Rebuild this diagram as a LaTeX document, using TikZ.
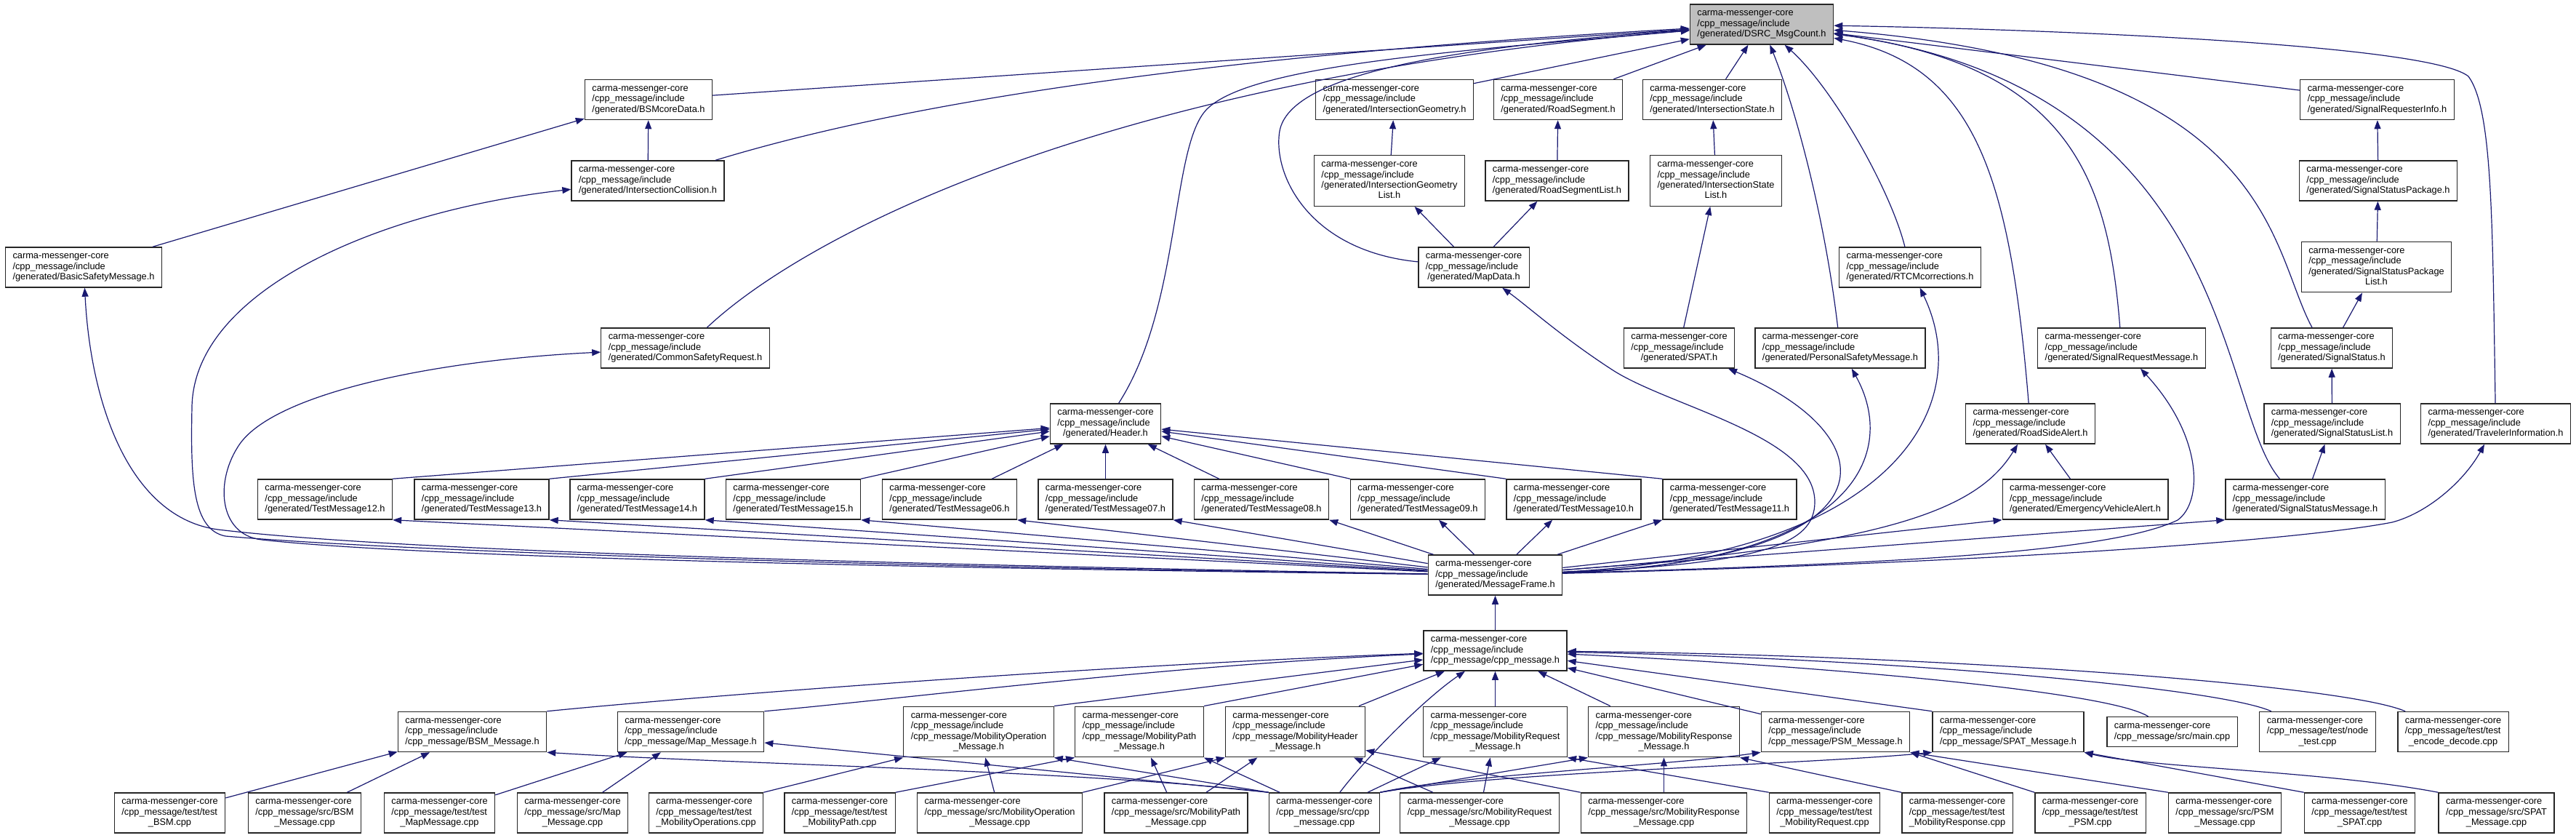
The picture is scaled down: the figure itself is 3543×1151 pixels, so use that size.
\documentclass[tikz,border=0pt]{standalone}
\usepackage{fontspec}
\setmainfont{Liberation Sans}
\usetikzlibrary{arrows.meta}
\definecolor{edgeblue}{HTML}{191970}
\definecolor{curgray}{HTML}{BFBFBF}

% label layouts: lines left aligned, last line centred
\newcommand{\twol}[2]{\begin{tabular}{@{}l@{}}#1\\\multicolumn{1}{@{}c@{}}{#2}\end{tabular}}
\newcommand{\threel}[3]{\begin{tabular}{@{}l@{}}#1\\#2\\\multicolumn{1}{@{}c@{}}{#3}\end{tabular}}
\newcommand{\fourl}[4]{\begin{tabular}{@{}l@{}}#1\\#2\\#3\\\multicolumn{1}{@{}c@{}}{#4}\end{tabular}}
\newcommand{\genl}[1]{\threel{carma-messenger-core}{/cpp\_message/include}{/generated/#1}}
\newcommand{\genll}[2]{\fourl{carma-messenger-core}{/cpp\_message/include}{/generated/#1}{#2}}
\newcommand{\cppl}[1]{\threel{carma-messenger-core}{/cpp\_message/include}{/cpp\_message/#1}}
\newcommand{\cppll}[1]{\fourl{carma-messenger-core}{/cpp\_message/include}{/cpp\_message/#1}{\_Message.h}}
\newcommand{\srcl}[2]{\threel{carma-messenger-core}{/cpp\_message/#1}{#2}}

\begin{document}
\begin{tikzpicture}[x=1pt,y=-1pt,
  fbox/.style={draw=black!85,line width=1.3pt,fill=white,inner xsep=10pt,inner ysep=6pt,
    font=\fontsize{12.8}{14.4}\selectfont},
  cur/.style={fbox,fill=curgray},
  dep/.style={draw=edgeblue,line width=1.2pt,-{Triangle[length=12pt,width=9pt]}}]

\useasboundingbox (0,0) rectangle (3543,1151);

% the file itself
\node[cur] (dsrc) at (2423,33.5) {\genl{DSRC\_MsgCount.h}};

% generated headers, upper rows
\node[fbox] (bsmcore) at (892,137) {\genl{BSMcoreData.h}};
\node[fbox] (igeom) at (1918,137) {\genl{IntersectionGeometry.h}};
\node[fbox] (rseg) at (2143,137) {\genl{RoadSegment.h}};
\node[fbox] (istate) at (2355,137) {\genl{IntersectionState.h}};
\node[fbox] (sreqinfo) at (3269.5,137) {\genl{SignalRequesterInfo.h}};

\node[fbox] (icoll) at (891,248.5) {\genl{IntersectionCollision.h}};
\node[fbox] (igeomlist) at (1911,248.5) {\genll{IntersectionGeometry}{List.h}};
\node[fbox] (rseglist) at (2141.5,248.5) {\genl{RoadSegmentList.h}};
\node[fbox] (istatelist) at (2360,248.5) {\genll{IntersectionState}{List.h}};
\node[fbox] (sspkg) at (3271,248.5) {\genl{SignalStatusPackage.h}};

\node[fbox] (bsm) at (115,367.5) {\genl{BasicSafetyMessage.h}};
\node[fbox] (mapdata) at (2027,367.5) {\genl{MapData.h}};
\node[fbox] (rtcm) at (2627,367.5) {\genl{RTCMcorrections.h}};
\node[fbox] (sspkglist) at (3268.5,367) {\genll{SignalStatusPackage}{List.h}};

\node[fbox] (csr) at (942.5,478.5) {\genl{CommonSafetyRequest.h}};
\node[fbox] (spat) at (2309.5,478.5) {\genl{SPAT.h}};
\node[fbox] (psm) at (2531,478.5) {\genl{PersonalSafetyMessage.h}};
\node[fbox] (sreqmsg) at (2918,478.5) {\genl{SignalRequestMessage.h}};
\node[fbox] (sstatus) at (3207,478.5) {\genl{SignalStatus.h}};

\node[fbox] (header) at (1520.5,582.5) {\genl{Header.h}};
\node[fbox] (rsa) at (2792.5,582.5) {\genl{RoadSideAlert.h}};
\node[fbox] (sslist) at (3207.5,582.5) {\genl{SignalStatusList.h}};
\node[fbox] (travinfo) at (3432.5,582.5) {\genl{TravelerInformation.h}};

% test messages
\foreach \n/\x in {12/447,13/662.5,14/876.5,15/1091,06/1306,07/1520.5,08/1735,09/1950,10/2164.5,11/2379}
  \node[fbox] (tm\n) at (\x,686.5) {\genl{TestMessage\n.h}};
\node[fbox] (eva) at (2868,686.5) {\genl{EmergencyVehicleAlert.h}};
\node[fbox] (ssmsg) at (3170.5,686.5) {\genl{SignalStatusMessage.h}};

\node[fbox] (msgframe) at (2056.5,790.5) {\genl{MessageFrame.h}};
\node[fbox] (cppmsg) at (2056.5,894.5) {\cppl{cpp\_message.h}};

% cpp_message headers
\node[fbox] (bsmmsg) at (649.5,1006) {\cppl{BSM\_Message.h}};
\node[fbox] (mapmsg) at (950,1006) {\cppl{Map\_Message.h}};
\node[fbox] (mobop) at (1346,1006) {\cppll{MobilityOperation}};
\node[fbox] (mobpath) at (1567,1006) {\cppll{MobilityPath}};
\node[fbox] (mobhdr) at (1781.5,1006) {\cppll{MobilityHeader}};
\node[fbox] (mobreq) at (2056.5,1006) {\cppll{MobilityRequest}};
\node[fbox] (mobresp) at (2288.5,1006) {\cppll{MobilityResponse}};
\node[fbox] (psmmsg) at (2524.5,1006) {\cppl{PSM\_Message.h}};
\node[fbox] (spatmsg) at (2762,1006) {\cppl{SPAT\_Message.h}};
\node[fbox] (maincpp) at (2987.5,1006) {\twol{carma-messenger-core}{/cpp\_message/src/main.cpp}};
\node[fbox] (nodetest) at (3187.5,1006) {\srcl{test/node}{\_test.cpp}};
\node[fbox] (encdec) at (3374,1006) {\srcl{test/test}{\_encode\_decode.cpp}};

% sources and tests
\node[fbox] (tbsm) at (233.5,1117.5) {\srcl{test/test}{\_BSM.cpp}};
\node[fbox] (sbsm) at (419,1117.5) {\srcl{src/BSM}{\_Message.cpp}};
\node[fbox] (tmap) at (604.5,1117.5) {\srcl{test/test}{\_MapMessage.cpp}};
\node[fbox] (smap) at (787.5,1117.5) {\srcl{src/Map}{\_Message.cpp}};
\node[fbox] (tmobop) at (971,1117.5) {\srcl{test/test}{\_MobilityOperations.cpp}};
\node[fbox] (tmobpath) at (1155,1117.5) {\srcl{test/test}{\_MobilityPath.cpp}};
\node[fbox] (smobop) at (1375,1117.5) {\srcl{src/MobilityOperation}{\_Message.cpp}};
\node[fbox] (smobpath) at (1617.5,1117.5) {\srcl{src/MobilityPath}{\_Message.cpp}};
\node[fbox] (scpp) at (1821.5,1117.5) {\srcl{src/cpp}{\_message.cpp}};
\node[fbox] (smobreq) at (2035,1117.5) {\srcl{src/MobilityRequest}{\_Message.cpp}};
\node[fbox] (smobresp) at (2288.5,1117.5) {\srcl{src/MobilityResponse}{\_Message.cpp}};
\node[fbox] (tmobreq) at (2509.5,1117.5) {\srcl{test/test}{\_MobilityRequest.cpp}};
\node[fbox] (tmobresp) at (2692,1117.5) {\srcl{test/test}{\_MobilityResponse.cpp}};
\node[fbox] (tpsm) at (2875,1117.5) {\srcl{test/test}{\_PSM.cpp}};
\node[fbox] (spsm) at (3060,1117.5) {\srcl{src/PSM}{\_Message.cpp}};
\node[fbox] (tspat) at (3245.5,1117.5) {\srcl{test/test}{\_SPAT.cpp}};
\node[fbox] (sspat) at (3433.5,1117.5) {\srcl{src/SPAT}{\_Message.cpp}};

% into DSRC_MsgCount.h
\draw[dep] (bsmcore) -- (dsrc);
\draw[dep] (icoll) .. controls (1150,170) and (1500,85) .. (dsrc);
\draw[dep] (csr) .. controls (1100,330) and (1500,110) .. (dsrc);
\draw[dep] (header) .. controls (1625,420) and (1610,200) .. (1660,150) .. controls (1720,90) and (2000,70) .. (dsrc);
\draw[dep] (mapdata) .. controls (1800,345) and (1750,240) .. (1760,180) .. controls (1775,100) and (2000,65) .. (dsrc);
\draw[dep] (igeom) -- (dsrc);
\draw[dep] (rseg) -- (dsrc);
\draw[dep] (istate) -- (dsrc);
\draw[dep] (psm) .. controls (2510,300) and (2470,150) .. (dsrc);
\draw[dep] (rtcm) .. controls (2600,260) and (2520,120) .. (dsrc);
\draw[dep] (rsa) .. controls (2765,250) and (2720,90) .. (dsrc);
\draw[dep] (sreqmsg) .. controls (2900,250) and (2850,90) .. (dsrc);
\draw[dep] ([xshift=-35pt]ssmsg.north) .. controls (3050,560) and (3075,120) .. (dsrc);
\draw[dep] ([xshift=-27pt]sstatus.north) .. controls (3120,340) and (3130,90) .. (dsrc);
\draw[dep] (sreqinfo) -- (dsrc);
\draw[dep] (travinfo) .. controls (3428,300) and (3428,150) .. (3395,105) .. controls (3340,60) and (2800,40) .. (dsrc);

% generated headers among themselves
\draw[dep] (icoll) -- (bsmcore);
\draw[dep] (bsm) -- (bsmcore);
\draw[dep] (igeomlist) -- (igeom);
\draw[dep] (rseglist) -- (rseg);
\draw[dep] (istatelist) -- (istate);
\draw[dep] (mapdata) -- (igeomlist);
\draw[dep] (mapdata) -- (rseglist);
\draw[dep] (spat) -- (istatelist);
\draw[dep] (sspkg) -- (sreqinfo);
\draw[dep] (sspkglist) -- (sspkg);
\draw[dep] (sstatus) -- (sspkglist);
\draw[dep] (sslist) -- (sstatus);
\draw[dep] (ssmsg) -- (sslist);
\draw[dep] (eva) -- (rsa);

% test messages into Header.h
\foreach \n in {12,13,14,15} \draw[dep] (tm\n.north east) -- (header);
\foreach \n in {06,07,08} \draw[dep] (tm\n) -- (header);
\foreach \n in {09,10,11} \draw[dep] (tm\n.north west) -- (header);

% MessageFrame.h
\foreach \n in {12,13,14,15,06,07,08} \draw[dep] (msgframe) -- (tm\n.south east);
\draw[dep] (msgframe) -- (tm09);
\draw[dep] (msgframe) -- (tm10);
\draw[dep] (msgframe) -- (tm11.south west);
\draw[dep] (msgframe) .. controls (1000,772) and (500,752) .. (300,728) .. controls (180,712) and (125,560) .. (bsm);
\draw[dep] (msgframe) .. controls (1000,776) and (480,752) .. (310,737) .. controls (265,728) and (262,660) .. (264,560) .. controls (266,400) and (520,290) .. (icoll);
\draw[dep] (msgframe) .. controls (1000,778) and (520,760) .. (360,742) .. controls (300,735) and (295,660) .. (330,610) .. controls (380,540) and (600,495) .. (csr);
\draw[dep] (msgframe) .. controls (2420,775) and (2496,750) .. (2496,690) .. controls (2496,600) and (2300,560) .. (2220,510) .. controls (2150,465) and (2100,420) .. (mapdata);
\draw[dep] (msgframe) .. controls (2620,770) and (2600,600) .. (spat);
\draw[dep] (msgframe) .. controls (2560,775) and (2610,620) .. (psm);
\draw[dep] (msgframe) .. controls (2600,765) and (2720,560) .. (rtcm);
\draw[dep] (msgframe) .. controls (2600,775) and (2900,760) .. (2995,715) .. controls (3030,690) and (3030,600) .. (sreqmsg);
\draw[dep] (msgframe) .. controls (2600,750) and (2720,700) .. (rsa);
\draw[dep] (msgframe) -- (eva.south west);
\draw[dep] (msgframe) -- (ssmsg.south west);
\draw[dep] (msgframe) .. controls (2700,775) and (3150,745) .. (3290,718) .. controls (3340,705) and (3390,660) .. (travinfo);
\draw[dep] (cppmsg) -- (msgframe);

% into cpp_message.h
\draw[dep] (bsmmsg.north east) .. controls (950,958) and (1500,915) .. (cppmsg);
\draw[dep] (mapmsg.north east) .. controls (1250,960) and (1600,915) .. (cppmsg);
\draw[dep] (mobop.north east) -- (cppmsg);
\draw[dep] (mobpath.north east) -- (cppmsg);
\draw[dep] (mobhdr) -- (cppmsg);
\draw[dep] (mobreq) -- (cppmsg);
\draw[dep] (mobresp) -- (cppmsg);
\draw[dep] (psmmsg) -- (cppmsg);
\draw[dep] (spatmsg.north west) -- (cppmsg);
\draw[dep] (maincpp) .. controls (2900,950) and (2500,915) .. (cppmsg);
\draw[dep] (nodetest) .. controls (3050,945) and (2600,905) .. (cppmsg);
\draw[dep] (encdec) .. controls (3220,940) and (2650,900) .. (cppmsg);
\draw[dep] (scpp) .. controls (1880,1040) and (1960,960) .. (cppmsg);

% src/cpp_message.cpp
\draw[dep] (scpp.north west) .. controls (1500,1060) and (1000,1050) .. (bsmmsg.south east);
\draw[dep] (scpp.north west) -- ([yshift=-15pt]mapmsg.east);
\draw[dep] (scpp.north west) -- (mobop.south east);
\draw[dep] (scpp) -- (mobpath.south east);
\draw[dep] (scpp) -- (mobreq);
\draw[dep] (scpp.north east) -- (mobresp.south west);
\draw[dep] (scpp.north east) .. controls (2000,1066) and (2300,1052) .. (psmmsg.south west);
\draw[dep] (scpp.north east) .. controls (2050,1062) and (2500,1050) .. (spatmsg.south west);

% bottom row
\draw[dep] (tbsm) -- (bsmmsg);
\draw[dep] (sbsm) -- (bsmmsg);
\draw[dep] (tmap) -- (mapmsg);
\draw[dep] (smap) -- (mapmsg);
\draw[dep] (tmobop.north east) -- (mobop.south west);
\draw[dep] (smobop) -- (mobop);
\draw[dep] (tmobpath.north east) -- (mobpath.south west);
\draw[dep] (smobpath) -- (mobpath);
\draw[dep] (smobop.north east) -- (mobhdr.south west);
\draw[dep] (smobpath) -- (mobhdr);
\draw[dep] (smobreq) -- (mobhdr);
\draw[dep] (smobresp.north west) -- ([yshift=10pt]mobhdr.south east);
\draw[dep] (smobreq) -- (mobreq);
\draw[dep] (tmobreq.north west) -- (mobreq.south east);
\draw[dep] (smobresp) -- (mobresp);
\draw[dep] (tmobresp.north west) -- (mobresp.south east);
\draw[dep] (tpsm.north west) -- (psmmsg.south east);
\draw[dep] (spsm.north west) -- (psmmsg.south east);
\draw[dep] (tspat.north west) -- (spatmsg.south east);
\draw[dep] (sspat.north west) .. controls (3200,1060) and (2950,1055) .. (spatmsg.south east);

\end{tikzpicture}
\end{document}
